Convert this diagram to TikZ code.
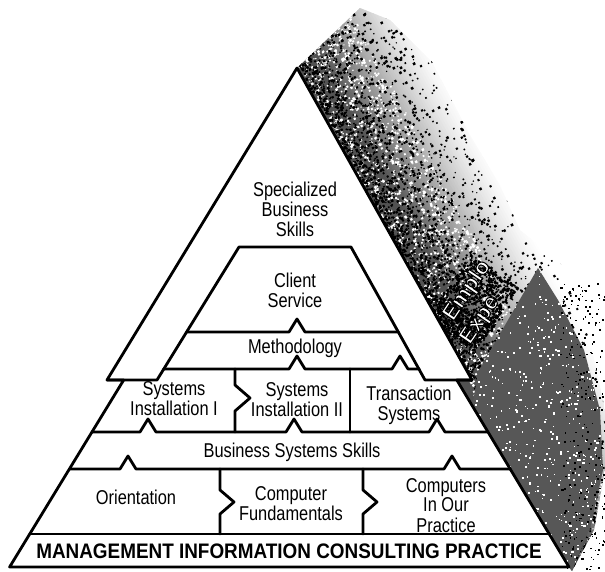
\documentclass[tikz,border=0pt]{standalone}
\usepackage{fontspec}
\setmainfont{Liberation Sans}
\usepackage{graphicx}
\usetikzlibrary{calc}
\newcommand{\lbl}[1]{\scalebox{0.82}[1]{\begin{tabular}{@{}c@{}}#1\end{tabular}}}
\newcommand{\outl}[1]{\special{pdf:code q 0 G 0.5 w 2 Tr}#1\special{pdf:code 0 Tr Q}}
\begin{document}
\begin{tikzpicture}[x=0.5pt,y=-0.5pt,
  ln/.style={draw=black,line width=1.4pt,line join=round,line cap=round},
  txt/.style={inner sep=0pt,font=\fontsize{10}{9.5}\selectfont}]
\useasboundingbox (0,0) rectangle (605,572);
% ---- shaded side face
\pgfmathsetseed{4242}
\begin{scope}
\clip (297,68) -- (360,8) -- (390,20) -- (432,62) -- (470,135) -- (500,185) -- (520,230) -- (560,262) -- (588,330) -- (605,410) -- (605,470) -- (594,530) -- (572,571) -- (440,400) -- (400,300) -- cycle;
\begin{scope}[shift={(297,68)},rotate=-61.37]
 \foreach \k in {39,38,...,0}{
   \pgfmathsetmacro\c{66*(1-\k/40)^1.4}
   \fill[black!\c] (-150,{-26-2.5*\k+0.4}) rectangle (700,{-26-2.5*(\k+1)});
 }
 \fill[black!68] (-150,40) rectangle (700,-26);
 \foreach \i in {1,...,2600}{
   \pgfmathsetmacro\u{rnd*640-40}
   \pgfmathsetmacro\v{-(75*rnd)}
   \pgfmathsetmacro\w{1+1.6*rnd}
   \fill[white] (\u,\v) rectangle ++(\w,\w);
 }
 \foreach \i in {1,...,4200}{
   \pgfmathsetmacro\u{rnd*640-40}
   \pgfmathsetmacro\v{-(4+160*rnd*rnd)}
   \pgfmathsetmacro\w{1+1.6*rnd}
   \fill[black] (\u,\v) rectangle ++(\w,\w);
 }
\end{scope}
% denser stipple behind the vertical lettering
\begin{scope}[shift={(447.4,330.3)},rotate=56]
 \foreach \i in {1,...,900}{
   \pgfmathsetmacro\u{78*rnd-3}
   \pgfmathsetmacro\v{-24+58*rnd}
   \pgfmathsetmacro\w{1.2+1.4*rnd}
   \fill[black] (\u,\v) rectangle ++(\w,\w);
 }
\end{scope}
% second peak
\begin{scope}
 \clip (538,268) -- (558,300) -- (584,350) -- (600,410) -- (603,470) -- (591,525) -- (572,571) -- (470,420) -- (478,372) -- cycle;
 \fill[black!66] (440,260) rectangle (610,575);
 \foreach \i in {1,...,900}{
   \pgfmathsetmacro\u{440+170*rnd}
   \pgfmathsetmacro\v{260+315*rnd}
   \pgfmathsetmacro\w{1+1.2*rnd}
   \fill[white] (\u,\v) rectangle ++(\w,\w);
 }
\end{scope}
\end{scope}
% ragged specks beyond the lower right edge
\foreach \i in {1,...,260}{
  \pgfmathsetmacro\u{560+45*rnd}
  \pgfmathsetmacro\v{280+290*rnd}
  \fill[black] (\u,\v) rectangle ++(1.6,1.6);
}
% ---- pyramid body
\path[fill=white,ln] (297,68) -- (472,380) -- (456.8,380) -- (569,567) -- (9.6,567) -- (123.7,380) -- (107,380) -- cycle;
\draw[ln] (107,380) -- (157,380) -- (239,247) -- (351,247) -- (425,380) -- (472,380);
\draw[ln] (186.5,332) -- (289,332) -- (297,319) -- (305,332) -- (398.5,332);
\draw[ln] (163.6,369) -- (289,369) -- (297,356) -- (305,369) -- (392,369) -- (400,356) -- (408,369) -- (419.2,369);
\draw[ln] (235,369) -- (235,385) -- (250,398) -- (235,411) -- (235,432);
\draw[ln] (350,369) -- (350,432);
\draw[ln] (92,432) -- (140,432) -- (148,419) -- (156,432) -- (286,432) -- (294,419) -- (302,432) -- (429,432) -- (437,419) -- (445,432) -- (488,432);
\draw[ln] (69.4,469) -- (120,469) -- (128,456) -- (136,469) -- (444,469) -- (452,456) -- (460,469) -- (510.2,469);
\draw[ln] (220,469) -- (220,490) -- (234,502) -- (220,514) -- (220,534);
\draw[ln] (363,469) -- (363,490) -- (377,502) -- (363,514) -- (363,534);
\draw[ln] (29.8,534) -- (549,534);
% ---- labels
\node[txt] (sbs) at (295,212) {\lbl{Specialized\\Business\\Skills}};
\node[txt] (cs) at (295,293) {\lbl{Client\\Service}};
\node[txt] (meth) at (295,349) {\lbl{Methodology}};
\node[txt] (si1) at (174,401) {\lbl{Systems\\Installation I}};
\node[txt] (si2) at (297,402) {\lbl{Systems\\Installation II}};
\node[txt] (ts) at (409,406) {\lbl{Transaction\\Systems}};
\node[txt] (bss) at (292,453) {\lbl{Business Systems Skills}};
\node[txt] (ori) at (136,500) {\lbl{Orientation}};
\node[txt] (cf) at (291,506) {\lbl{Computer\\Fundamentals}};
\node[txt] (ciop) at (446,508) {\lbl{Computers\\In Our\\Practice}};
\node[inner sep=0pt,font=\fontsize{10.5}{12}\selectfont\bfseries] (mgmt) at (289,551) {\scalebox{0.9}[1]{MANAGEMENT INFORMATION CONSULTING PRACTICE}};
\node[anchor=base west,rotate=56,inner sep=0pt,text=white,font=\fontsize{11}{13.5}\selectfont\bfseries] (ee) at (447.4,330.3) {\begin{tabular}[t]{@{}l@{}}\hspace{5pt}\outl{Emplo}\\\outl{Expe}\end{tabular}};
\end{tikzpicture}
\end{document}
